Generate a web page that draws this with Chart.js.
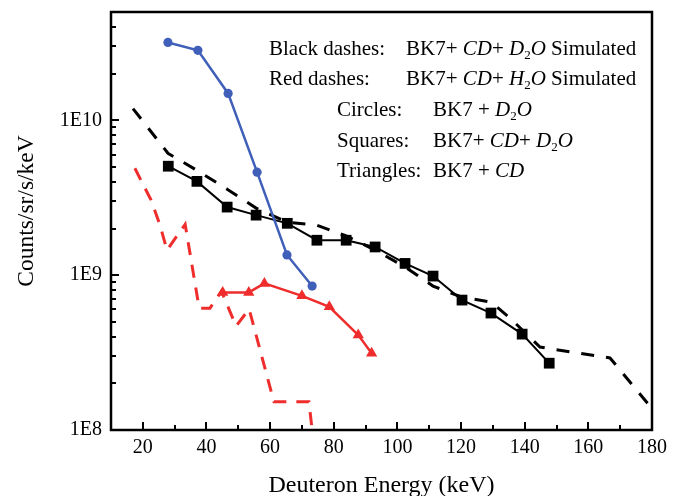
<!DOCTYPE html>
<html>
<head>
<meta charset="utf-8">
<script src="https://cdn.jsdelivr.net/npm/chart.js@4.4.1/dist/chart.umd.min.js"></script>
<style>
  html, body { margin: 0; padding: 0; background: #ffffff; }
  #wrap { width: 679px; height: 496px; position: relative; }
  canvas { display: block; }
</style>
</head>
<body>
<div id="wrap"><canvas id="c" width="679" height="496"></canvas></div>
<script>
// ---- data ----
const xTicks = [20, 40, 60, 80, 100, 120, 140, 160, 180];
const yTicks = [1e8, 1e9, 1e10];
const yTickLabels = ['1E8', '1E9', '1E10'];

const circleX = [27.9, 37.3, 46.8, 55.9, 65.3, 73.2];
const circleY = [3.18e10, 2.83e10, 1.49e10, 4.62e9, 1.35e9, 8.5e8];

const squareX = [28, 37, 46.5, 55.6, 65.4, 74.7, 83.9, 93, 102.4, 111.2, 120.3, 129.4, 139.2, 147.7];
const squareY = [5.05e9, 4.03e9, 2.75e9, 2.44e9, 2.16e9, 1.68e9, 1.68e9, 1.52e9, 1.19e9, 9.86e8, 6.9e8, 5.69e8, 4.16e8, 2.70e8];

const triX = [45.1, 53.3, 58.2, 70.0, 78.6, 87.7, 91.9];
const triY = [7.73e8, 7.73e8, 8.84e8, 7.35e8, 6.24e8, 4.10e8, 3.13e8];

const simD2OX = [16.9, 27.9, 37.0, 46.5, 55.6, 65.3, 74.7, 83.9, 93.0, 102.4, 111.2, 120.3, 129.4, 135.4, 144.8, 166.8, 178.8];
const simD2OY = [1.19e10, 6.12e9, 4.75e9, 3.59e9, 2.71e9, 2.20e9, 2.10e9, 1.79e9, 1.45e9, 1.13e9, 8.5e8, 7.2e8, 6.7e8, 5.28e8, 3.43e8, 2.92e8, 1.47e8];

const simH2OX = [17.5, 22.6, 25.4, 27.6, 33.3, 37.7, 41.1, 44.7, 49.3, 53.4, 61.2, 72.2, 73.2];
const simH2OY = [4.90e9, 3.05e9, 2.10e9, 1.45e9, 2.13e9, 6.12e8, 6.12e8, 7.88e8, 4.69e8, 6.04e8, 1.52e8, 1.52e8, 1.0e8];

const xTitle = 'Deuteron Energy (keV)';
const yTitle = 'Counts/sr/s/keV';

// ---- styles ----
const BLUE = '#3f5fb9';
const RED = '#ef2d2d';
const BLACK = '#000000';
const SERIF = '"Liberation Serif", "Times New Roman", serif';

function pts(xs, ys) { return xs.map((x, i) => ({ x: x, y: ys[i] })); }

// legend text runs: n = normal, i = italic, s = subscript
const legendRows = [
  { label: 'Black dashes:', lx: 269, vx: 406, runs: [['BK7+ ', 'n'], ['CD', 'i'], ['+ ', 'n'], ['D', 'i'], ['2', 's'], ['O', 'i'], [' Simulated', 'n']] },
  { label: 'Red dashes:', lx: 269, vx: 406, runs: [['BK7+ ', 'n'], ['CD', 'i'], ['+ ', 'n'], ['H', 'i'], ['2', 's'], ['O', 'i'], [' Simulated', 'n']] },
  { label: 'Circles:', lx: 337, vx: 433, runs: [['BK7 + ', 'n'], ['D', 'i'], ['2', 's'], ['O', 'i']] },
  { label: 'Squares:', lx: 337, vx: 433, runs: [['BK7+ ', 'n'], ['CD', 'i'], ['+ ', 'n'], ['D', 'i'], ['2', 's'], ['O', 'i']] },
  { label: 'Triangles:', lx: 337, vx: 433, runs: [['BK7 + ', 'n'], ['CD', 'i']] }
];
const legendBaselines = [55, 85, 116, 146.5, 177];

const decorPlugin = {
  id: 'decor',
  afterDraw(chart) {
    const ctx = chart.ctx;
    const a = chart.chartArea;
    const xs = chart.scales.x, ys = chart.scales.y;
    ctx.save();
    ctx.strokeStyle = BLACK;
    // inside tick marks
    ctx.lineWidth = 2;
    ctx.beginPath();
    for (let v = 20; v <= 170; v += 10) {
      const px = Math.round(xs.getPixelForValue(v));
      const len = (v % 20 === 0) ? 8 : 5;
      ctx.moveTo(px, a.bottom);
      ctx.lineTo(px, a.bottom - len);
    }
    for (let e = 8; e <= 10; e++) {
      for (let m = 1; m <= 9; m++) {
        const v = m * Math.pow(10, e);
        if (v > ys.max * 0.999) continue;
        const py = Math.round(ys.getPixelForValue(v));
        const len = (m === 1) ? 8 : 5;
        ctx.moveTo(a.left, py);
        ctx.lineTo(a.left + len, py);
      }
    }
    ctx.stroke();
    // frame
    ctx.lineWidth = 2.5;
    ctx.strokeRect(a.left, a.top, a.right - a.left, a.bottom - a.top);

    // axis titles
    ctx.fillStyle = BLACK;
    ctx.font = '24px ' + SERIF;
    ctx.textAlign = 'center';
    ctx.textBaseline = 'alphabetic';
    ctx.fillText(xTitle, (a.left + a.right) / 2, 492);
    ctx.save();
    ctx.translate(33, 211);
    ctx.rotate(-Math.PI / 2);
    ctx.font = '23.5px ' + SERIF;
    ctx.fillText(yTitle, 0, 0);
    ctx.restore();

    // legend text
    ctx.textAlign = 'left';
    legendRows.forEach((row, i) => {
      const by = legendBaselines[i];
      ctx.font = '21px ' + SERIF;
      ctx.fillText(row.label, row.lx, by);
      let x = row.vx;
      row.runs.forEach(([t, s]) => {
        let yy = by;
        if (s === 'n') ctx.font = '21px ' + SERIF;
        else if (s === 'i') ctx.font = 'italic 21px ' + SERIF;
        else { ctx.font = '13px ' + SERIF; yy = by + 4; }
        ctx.fillText(t, x, yy);
        x += ctx.measureText(t).width;
      });
    });
    ctx.restore();
  }
};

new Chart(document.getElementById('c'), {
  type: 'scatter',
  data: {
    datasets: [
      {
        label: 'Circles: BK7 + D2O',
        data: pts(circleX, circleY),
        showLine: true,
        borderColor: BLUE,
        backgroundColor: BLUE,
        borderWidth: 2.5,
        pointStyle: 'circle',
        pointRadius: 4.6,
        pointBorderWidth: 0
      },
      {
        label: 'Squares: BK7+ CD+ D2O',
        data: pts(squareX, squareY),
        showLine: true,
        borderColor: BLACK,
        backgroundColor: BLACK,
        borderWidth: 2,
        pointStyle: 'rect',
        pointRadius: 7.6,
        pointBorderWidth: 0
      },
      {
        label: 'Triangles: BK7 + CD',
        data: pts(triX, triY),
        showLine: true,
        borderColor: RED,
        backgroundColor: RED,
        borderWidth: 2.5,
        pointStyle: 'triangle',
        pointRadius: 6.5,
        pointBorderWidth: 0
      },
      {
        label: 'Black dashes: BK7+ CD+ D2O Simulated',
        data: pts(simD2OX, simD2OY),
        showLine: true,
        borderColor: BLACK,
        borderWidth: 3,
        borderDash: [13, 12],
        borderCapStyle: 'butt',
        pointRadius: 0
      },
      {
        label: 'Red dashes: BK7+ CD+ H2O Simulated',
        data: pts(simH2OX, simH2OY),
        showLine: true,
        borderColor: RED,
        borderWidth: 3,
        borderDash: [13, 10],
        borderCapStyle: 'butt',
        pointRadius: 0
      }
    ]
  },
  options: {
    responsive: false,
    animation: false,
    devicePixelRatio: 1,
    layout: { padding: { top: 12, right: 27, left: 0, bottom: 0 } },
    plugins: { legend: { display: false }, tooltip: { enabled: false }, title: { display: false } },
    elements: { line: { tension: 0 } },
    scales: {
      x: {
        type: 'linear',
        min: 10,
        max: 180,
        afterFit(scale) { scale.height = 66; scale.paddingLeft = 0; scale.paddingRight = 0; },
        afterBuildTicks(scale) { scale.ticks = xTicks.map(v => ({ value: v })); },
        grid: { display: false, drawTicks: false },
        border: { display: false },
        ticks: {
          color: BLACK,
          padding: 6,
          font: { family: SERIF, size: 20 },
          maxRotation: 0,
          autoSkip: false,
          callback: (v) => String(v)
        }
      },
      y: {
        type: 'logarithmic',
        min: 1e8,
        max: 5e10,
        afterFit(scale) { scale.width = 111; scale.paddingTop = 0; scale.paddingBottom = 0; },
        afterBuildTicks(scale) { scale.ticks = yTicks.map(v => ({ value: v })); },
        grid: { display: false, drawTicks: false },
        border: { display: false },
        ticks: {
          color: BLACK,
          padding: 9,
          font: { family: SERIF, size: 20 },
          autoSkip: false,
          callback: (v) => { const i = yTicks.indexOf(v); return i >= 0 ? yTickLabels[i] : ''; }
        }
      }
    }
  },
  plugins: [decorPlugin]
});
</script>
</body>
</html>
